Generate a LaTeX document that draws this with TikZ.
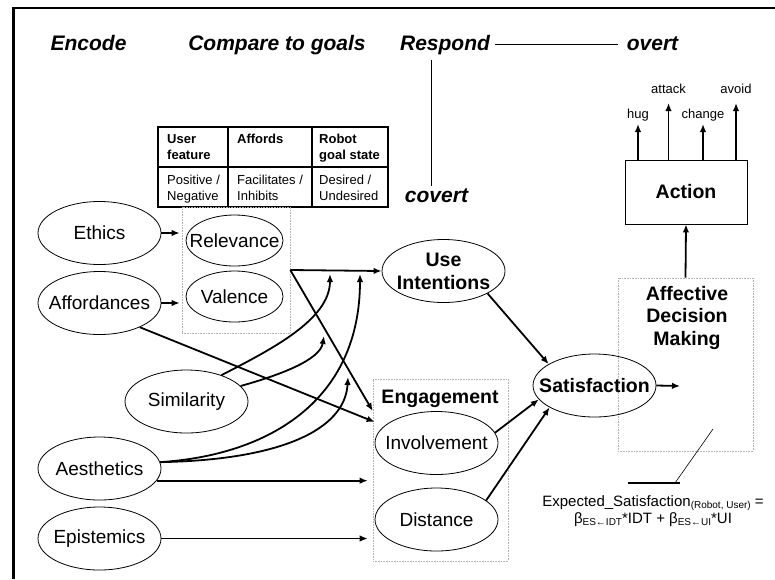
\documentclass[tikz,border=0pt]{standalone}
\usepackage{fontspec}
\setmainfont{Liberation Sans}
\usepackage{tikz}
\usetikzlibrary{arrows.meta,positioning,shapes.geometric}

\newcommand{\lowsub}[1]{\raisebox{-2pt}{\fontsize{10}{10}\selectfont #1}}

\begin{document}
\begin{tikzpicture}[
  x=1pt, y=-1pt,
  phase/.style={font=\fontsize{21}{24}\selectfont\bfseries\itshape, inner sep=0pt, anchor=base},
  oval/.style={ellipse, draw, line width=0.8pt, inner xsep=-40pt, inner ysep=0pt, minimum width=123pt, minimum height=63pt, align=center, font=\fontsize{19}{22}\selectfont},
  keyoval/.style={oval, font=\fontsize{19.5}{23}\selectfont\bfseries},
  apprsl/.style={oval, minimum width=97pt, minimum height=51pt},
  groupbox/.style={draw=gray!60, densely dotted, line width=0.6pt, inner sep=0pt},
  grouplbl/.style={inner sep=0pt, align=center, font=\fontsize{19.5}{22.5}\selectfont\bfseries},
  cell/.style={anchor=north west, inner sep=0pt, align=left, font=\fontsize{13}{16}\selectfont},
  headcell/.style={cell, font=\fontsize{13}{16}\selectfont\bfseries},
  actlbl/.style={inner sep=0pt, anchor=base, font=\fontsize{13}{15}\selectfont},
  formula/.style={anchor=north, inner sep=0pt, align=center, font=\fontsize{15}{17}\selectfont},
  arrow/.style={-{Latex[length=8pt,width=6.5pt]}, line width=1.8pt}
]
\useasboundingbox (0,0) rectangle (775,579);
\draw[line width=2.7pt] (13.5,579) -- (13.5,8) -- (775,8);

\node[phase] (enc) at (88.5,50) {Encode};
\node[phase] (cmpg) at (277,50) {Compare to goals};
\node[phase] (resp) at (445,50) {Respond};
\node[phase] (ovt) at (652.5,50) {overt};
\node[phase] (cvt) at (436.5,202) {covert};
\draw[line width=0.8pt, shorten <=5pt, shorten >=9pt] (resp.east) -- (resp.east -| ovt.west);
\draw[line width=0.8pt] ([xshift=-14pt, yshift=-5pt]resp.south) -- ([xshift=-5.5pt, yshift=2pt]cvt.north);

\draw[line width=1.1pt] (158,127) rectangle (388,207);
\draw[line width=1.1pt] (158,167) -- (388,167) (228,127) -- (228,207) (312,127) -- (312,207);
\node[headcell] (h1) at (167,134) {User\\feature};
\node[headcell] (h2) at (237,134) {Affords};
\node[headcell] (h3) at (319,134) {Robot\\goal state};
\node[cell] (b1) at (167,175) {Positive /\\Negative};
\node[cell] (b2) at (237,175) {Facilitates /\\Inhibits};
\node[cell] (b3) at (319,175) {Desired /\\Undesired};

\node[groupbox, minimum width=108pt, minimum height=126pt] (cmp) at (236,270) {};
\node[groupbox, minimum width=135pt, minimum height=182pt] (eng) at (440.5,470) {};
\node[groupbox, minimum width=135pt, minimum height=173pt] (adm) at (685.5,364.5) {};
\node[grouplbl, anchor=base] (engl) at (440,403) {Engagement};
\node[grouplbl, anchor=north] (adml) at (687,286) {Affective\\Decision\\Making};

\node[oval] (eth) at (99.5,233) {Ethics};
\node[oval] (aff) at (99.5,303) {Affordances};
\node[oval] (sim) at (186.5,401.5) {Similarity};
\node[oval] (aes) at (99.5,468.5) {Aesthetics};
\node[oval] (epi) at (99.5,538.5) {Epistemics};
\node[apprsl] (rel) at (234.5,240.5) {Relevance};
\node[apprsl] (val) at (234.5,296.5) {Valence};
\node[keyoval] (use) at (443.5,271) {Use\\Intentions};
\node[keyoval] (sat) at (594.5,385.5) {Satisfaction};
\node[oval] (inv) at (436.5,443) {Involvement};
\node[oval] (dis) at (436.5,519.5) {Distance};

\node[draw, line width=0.8pt, minimum width=122pt, minimum height=64pt, font=\fontsize{19.5}{23}\selectfont\bfseries] (act) at (686,192) {Action};
\foreach \nm/\lx/\ty/\by in {hug/638/124/118, attack/668.5/103/93, change/703/124/118, avoid/736/103/93}{
  \node[actlbl] (\nm) at (\lx,\by) {\nm};
  \coordinate (\nm-tip) at (\lx,\ty);
  \draw[arrow] (act.north -| \nm-tip) -- (\nm-tip);
}

\coordinate (tipA) at (330,274);
\coordinate (tipB) at (324,336);
\coordinate (tipC) at (360,274);
\coordinate (tipD) at (348,377);
\coordinate (admin) at (680,386);

\draw[arrow, shorten >=2pt] (eth.east) -- (eth.east -| cmp.west);
\draw[arrow, shorten >=2pt] (aff.east) -- (aff.east -| cmp.west);
\draw[arrow] (cmp.east) -- (use.west);
\draw[arrow] (cmp.east) -- ([yshift=59pt]eng.west);
\draw[arrow] (aff.-31) -- ([yshift=48pt, xshift=2pt]eng.west);
\draw[arrow] (sim.37) .. controls (270,350) and (330,320) .. (tipA);
\draw[arrow] (sim.16) .. controls (280,375) and (320,360) .. (tipB);
\draw[arrow] (aes.6) .. controls (270,455) and (360,400) .. (tipC);
\draw[arrow] (aes.6) .. controls (280,460) and (345,430) .. (tipD);
\draw[arrow, shorten >=5pt] (aes.-12.5) -- (aes.-12.5 -| eng.west);
\draw[arrow, shorten >=5pt] (epi.east) -- (epi.east -| eng.west);
\draw[arrow] (use.-27) -- (sat.155);
\draw[arrow] (inv.10) -- (sat.194);
\draw[arrow] (dis.21) -- (sat.206);
\draw[arrow] (sat.east) -- (admin);
\draw[arrow] (adm.north) -- (act.south);

\coordinate (clA) at (628,483);
\coordinate (clB) at (680,483);
\coordinate (clK) at (675,483);
\coordinate (clC) at (713,429);
\draw[line width=1.2pt] (clA) -- (clB);
\draw[line width=0.6pt] (clK) -- (clC);
\node[formula] (esf) at (653,495) {Expected\_Satisfaction\lowsub{(Robot, User)} =\\β\lowsub{ES←IDT}*IDT + β\lowsub{ES←UI}*UI};
\end{tikzpicture}
\end{document}
